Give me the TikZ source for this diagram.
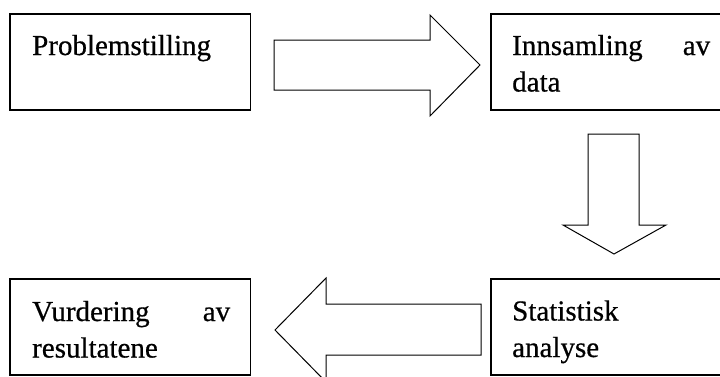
\documentclass[tikz,border=0pt]{standalone}
\usepackage{fontspec}
\setmainfont[FakeBold=0.6]{Liberation Serif}
\begin{document}
\begin{tikzpicture}[x=1pt,y=-1pt,
  box/.style={draw,line width=1.5pt,rectangle,inner sep=0pt,minimum width=240.5pt,minimum height=96pt},
  txt/.style={anchor=base west,inner sep=0pt,text width=198pt,align=left,font=\fontsize{29}{36.5}\selectfont},
  blockarrow/.style={draw,line width=1pt,line join=miter}]
\useasboundingbox (0,0) rectangle (720,376);
% boxes
\node[box] (b1) at (130.25,62) {};
\node[box] (b2) at (611,62) {};
\node[box] (b4) at (611,327) {};
\node[box] (b3) at (130.25,326.75) {};
% texts
\node[txt] (t1) at (32,55) {Problemstilling};
\node[txt] (t2) at (512,55) {Innsamling\hfill av\\data};
\node[txt] (t4) at (512,320.5) {Statistisk\\analyse};
\node[txt] (t3) at (32,321) {Vurdering\hfill av\\resultatene};
% block arrows
\draw[blockarrow] (274,40) -- (430,40) -- (430,15) -- (480,65) -- (430,116) -- (430,90) -- (274,90) -- cycle;
\draw[blockarrow] (588,134) -- (639,134) -- (639,225) -- (666,225) -- (614,254) -- (563,225) -- (588,225) -- cycle;
\draw[blockarrow] (481,304) -- (326,304) -- (326,278) -- (275,330) -- (326,382) -- (326,355) -- (481,355) -- cycle;
\end{tikzpicture}
\end{document}
